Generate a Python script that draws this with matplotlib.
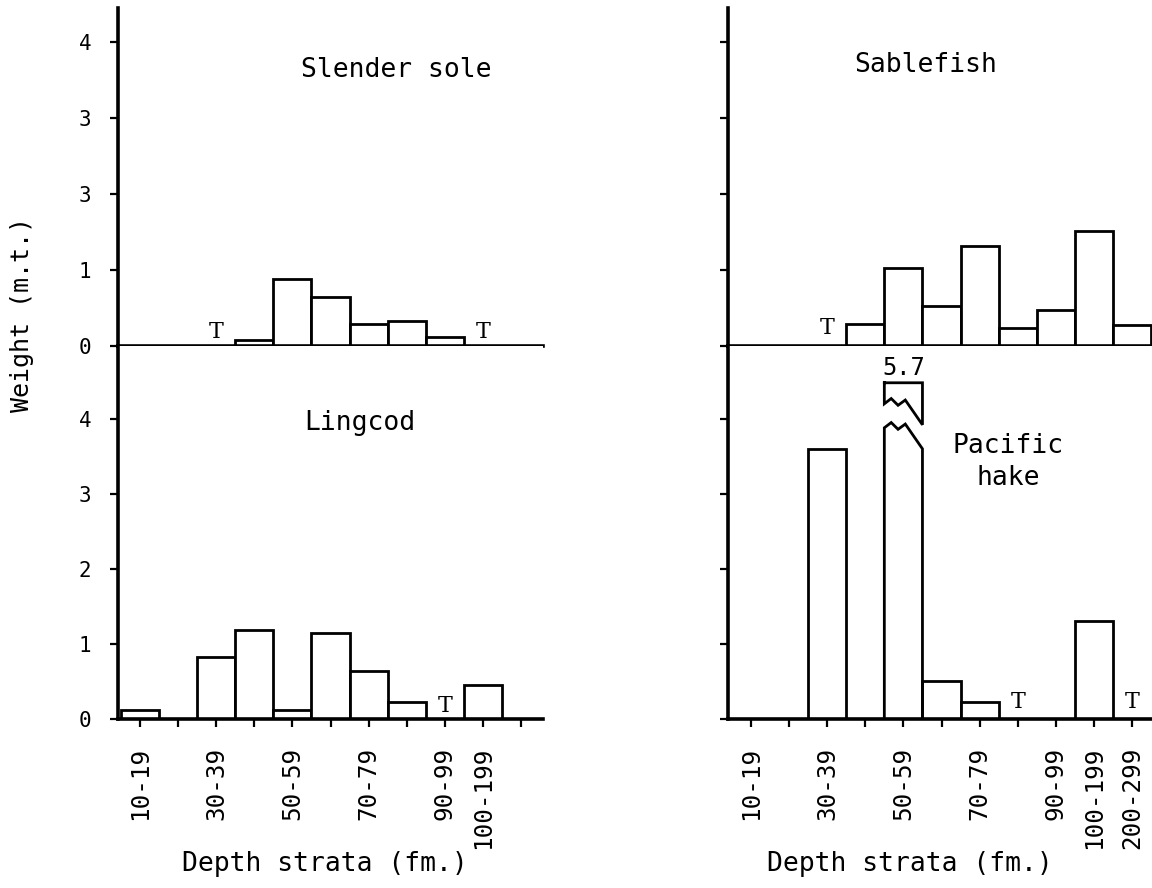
import matplotlib.pyplot as plt
import numpy as np

# depth strata (fathoms), one bar slot each
strata = ["10-19", "20-29", "30-39", "40-49", "50-59", "60-69",
          "70-79", "80-89", "90-99", "100-199", "200-299"]

# weights in metric tons; "T" = trace catch
slender_sole = [0, 0, 0, 0.08, 0.88, 0.65, 0.29, 0.33, 0.12, 0, 0]
slender_sole_trace = ["30-39", "100-199"]

lingcod = [0.12, 0, 0.83, 1.19, 0.12, 1.15, 0.64, 0.22, 0, 0.45, 0]
lingcod_trace = ["90-99"]

sablefish = [0, 0, 0, 0.29, 1.03, 0.53, 1.32, 0.24, 0.48, 1.51, 0.27]
sablefish_trace = ["30-39"]

pacific_hake = [0, 0, 3.6, 0, 5.7, 0.5, 0.22, 0, 0, 1.3, 0]
pacific_hake_trace = ["80-89", "200-299"]

left_xlabels = ["10-19", "30-39", "50-59", "70-79", "90-99", "100-199"]
right_xlabels = ["10-19", "30-39", "50-59", "70-79", "90-99", "100-199", "200-299"]

yticks = [0, 1, 2, 3, 4]
top_ylabels = ["0", "1", "3", "3", "4"]      # printed this way in the original
bottom_ylabels = ["0", "1", "2", "3", "4"]

MONO = "DejaVu Sans Mono"
LW_AX = 2.6
LW_BAR = 2.0

# broken-bar styling for values that run off the panel
BREAK_LOW = 3.88
BREAK_HIGH = 4.2
CAP_TOP = 4.48
ZIG_X = [0, 0.18, 0.36, 0.55, 1.0]
ZIG_Y = [0, 0.07, -0.02, 0.05, -0.28]


def draw_panel(ax, values, trace, ylim, xlim, trace_y):
    x = np.arange(len(strata))
    ymax = ylim[1]
    for xi, v in zip(x, values):
        if v <= 0:
            continue
        if v < ymax:
            ax.bar(xi, v, width=1.0, color="white", edgecolor="black",
                   linewidth=LW_BAR, zorder=2)
        else:
            x0, x1 = xi - 0.5, xi + 0.5
            zx = x0 + np.array(ZIG_X) * (x1 - x0)
            zy = np.array(ZIG_Y)
            lx = np.concatenate([[x0], zx, [x1]])
            ly = np.concatenate([[0], BREAK_LOW + zy, [0]])
            ax.fill(lx, ly, color="white", zorder=2)
            ax.plot(lx, ly, color="black", lw=LW_BAR, zorder=3,
                    solid_joinstyle="miter")
            ux = np.concatenate([[x0, x1], zx[::-1], [x0]])
            uy = np.concatenate([[CAP_TOP, CAP_TOP], BREAK_HIGH + zy[::-1],
                                 [CAP_TOP]])
            ax.fill(ux, uy, color="white", zorder=2)
            ax.plot(ux, uy, color="black", lw=LW_BAR, zorder=3,
                    solid_joinstyle="miter")
            ax.text(xi, CAP_TOP + 0.2, f"{v}", ha="center", va="center",
                    fontsize=17, family=MONO)
    for t in trace:
        ax.text(strata.index(t), trace_y, "T", ha="center", va="center",
                fontsize=16, family="DejaVu Serif")
    ax.set_xlim(*xlim)
    ax.set_ylim(*ylim)
    for s in ("top", "right"):
        ax.spines[s].set_visible(False)
    for s in ("left", "bottom"):
        ax.spines[s].set_linewidth(LW_AX)
    ax.set_yticks(yticks)
    ax.tick_params(axis="y", direction="out", length=6, width=1.6, pad=13)


fig = plt.figure(figsize=(11.52, 8.88), dpi=100)

W, H = 1152, 888
lx0, lw = 118 / W, 425 / W
rx0, rw = 728 / W, 424 / W
top_b, top_h = 1 - 346 / H, 338 / H
bot_b, bot_h = 1 - 719 / H, 373 / H

ax_ss = fig.add_axes([lx0, top_b, lw, top_h])
ax_lc = fig.add_axes([lx0, bot_b, lw, bot_h])
ax_sb = fig.add_axes([rx0, top_b, rw, top_h])
ax_ph = fig.add_axes([rx0, bot_b, rw, bot_h])

top_ylim = (0, 4.45)
bot_ylim = (0, 4.97)
left_xlim = (-0.58, 10.58)
right_xlim = (-0.6, 10.52)

draw_panel(ax_ss, slender_sole, slender_sole_trace, top_ylim, left_xlim, 0.19)
draw_panel(ax_lc, lingcod, lingcod_trace, bot_ylim, left_xlim, 0.17)
draw_panel(ax_sb, sablefish, sablefish_trace, top_ylim, right_xlim, 0.24)
draw_panel(ax_ph, pacific_hake, pacific_hake_trace, bot_ylim, right_xlim, 0.23)

# y tick labels only on the left column
ax_ss.set_yticklabels(top_ylabels, fontsize=15, family=MONO)
ax_lc.set_yticklabels(bottom_ylabels, fontsize=15, family=MONO)
ax_sb.set_yticklabels([])
ax_ph.set_yticklabels([])

# no ticks on the upper panels' baseline
for ax in (ax_ss, ax_sb):
    ax.set_xticks([])

for ax, labels in ((ax_lc, left_xlabels), (ax_ph, right_xlabels)):
    ax.set_xticks(np.arange(len(strata)))
    ax.set_xticklabels([s if s in labels else "" for s in strata],
                       rotation=90, fontsize=17.5, family=MONO)
    ax.tick_params(axis="x", direction="out", length=6, width=1.6, pad=14)

# panel names
ax_ss.text(0.654, 0.817, "Slender sole", transform=ax_ss.transAxes,
           ha="center", va="center", fontsize=19, family=MONO)
ax_sb.text(0.467, 0.831, "Sablefish", transform=ax_sb.transAxes,
           ha="center", va="center", fontsize=19, family=MONO)
ax_lc.text(0.569, 0.794, "Lingcod", transform=ax_lc.transAxes,
           ha="center", va="center", fontsize=19, family=MONO)
ax_ph.text(0.66, 0.689, "Pacific\nhake", transform=ax_ph.transAxes,
           ha="center", va="center", fontsize=19, family=MONO,
           linespacing=1.3)

ax_lc.text(0.487, -0.39, "Depth strata (fm.)", transform=ax_lc.transAxes,
           ha="center", va="center", fontsize=19, family=MONO)
ax_ph.text(0.43, -0.39, "Depth strata (fm.)", transform=ax_ph.transAxes,
           ha="center", va="center", fontsize=19, family=MONO)

fig.text(22 / W, 1 - 314 / H, "Weight (m.t.)", rotation=90,
         ha="center", va="center", fontsize=18, family=MONO)

fig.savefig("out.png", dpi=100)
